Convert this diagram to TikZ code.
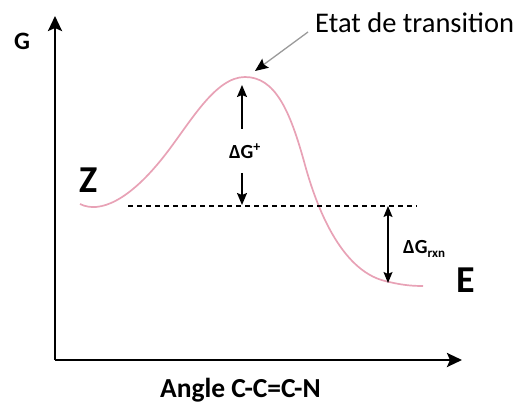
\documentclass[tikz,border=0pt]{standalone}
\usepackage{fontspec}
\setmainfont{Carlito}
\usetikzlibrary{arrows.meta}
\definecolor{curvepink}{HTML}{E8A2B6}
\definecolor{ptrgray}{HTML}{9A9A9A}
\begin{document}
\begin{tikzpicture}[x=1pt,y=-1pt,
  axisline/.style={line width=2.6pt,-{Stealth[length=15pt,width=14pt,inset=3pt]}},
  dgarrow/.style={line width=1.6pt,-{Stealth[length=12pt,width=10pt,inset=2pt]}},
  dblarrow/.style={line width=1.4pt,{Stealth[length=11pt,width=9pt,inset=2pt]}-{Stealth[length=11pt,width=9pt,inset=2pt]}},
  ptr/.style={draw=ptrgray,line width=1.3pt,-{Stealth[length=13pt,width=11pt,inset=2pt,color=black]}},
  energy/.style={draw=curvepink,line width=1.7pt},
  level/.style={line width=1.4pt,dash pattern=on 5pt off 4pt},
  lbl/.style={inner sep=0pt,font=\fontsize{28.5}{30}\selectfont},
  blbl/.style={inner sep=0pt,font=\bfseries\fontsize{27.5}{30}\selectfont},
  big/.style={inner sep=0pt,font=\bfseries\fontsize{38}{40}\selectfont},
  dg/.style={inner sep=0pt,font=\bfseries\fontsize{20}{23}\selectfont}]
\useasboundingbox (0,0) rectangle (513,403);
% axes
\coordinate (origin) at (55,360);
\coordinate (ytop) at (55,16);
\coordinate (xend) at (462,360);
\draw[axisline] (origin) -- (ytop);
\draw[axisline] (origin) -- (xend);
\node[inner sep=0pt,font=\bfseries\fontsize{25}{27}\selectfont] (G) at (22,41) {G};
\node[blbl,anchor=base west] (xlabel) at (160,397) {Angle C-C=C-N};
% energy curve
\draw[energy] (80,204) .. controls (100,214) and (130,200) .. (165,155)
  .. controls (190,123) and (215,77) .. (245,77)
  .. controls (275,77) and (290,110) .. (305,165)
  .. controls (316,205) and (340,270) .. (385,281)
  .. controls (400,284.7) and (410,286) .. (423,286);
% level line
\coordinate (lvlL) at (128,206);
\coordinate (lvlR) at (417,206);
\draw[level] (lvlL) -- (lvlR);
% activation energy
\node[dg] (dGa) at (245,151) {ΔG\textsuperscript{+}};
\coordinate (peak) at (242,85);
\coordinate (base) at (242,205);
\draw[dgarrow] (242,129) -- (peak);
\draw[dgarrow] (242,173) -- (base);
% reaction energy
\coordinate (rxnTop) at (388,206);
\coordinate (rxnBot) at (388,283);
\draw[dblarrow] (rxnTop) -- (rxnBot);
\node[dg,anchor=base west] (dGr) at (403,253) {ΔG\raisebox{-4pt}{\fontsize{13}{14}\selectfont rxn}};
% states
\node[big] (Z) at (89,180) {Z};
\node[big] (E) at (466,280) {E};
% transition state label
\node[lbl,anchor=base west] (ts) at (315,33) {Etat de transition};
\coordinate (tsTip) at (255,71);
\draw[ptr] (308,32) -- (tsTip);
\end{tikzpicture}
\end{document}
